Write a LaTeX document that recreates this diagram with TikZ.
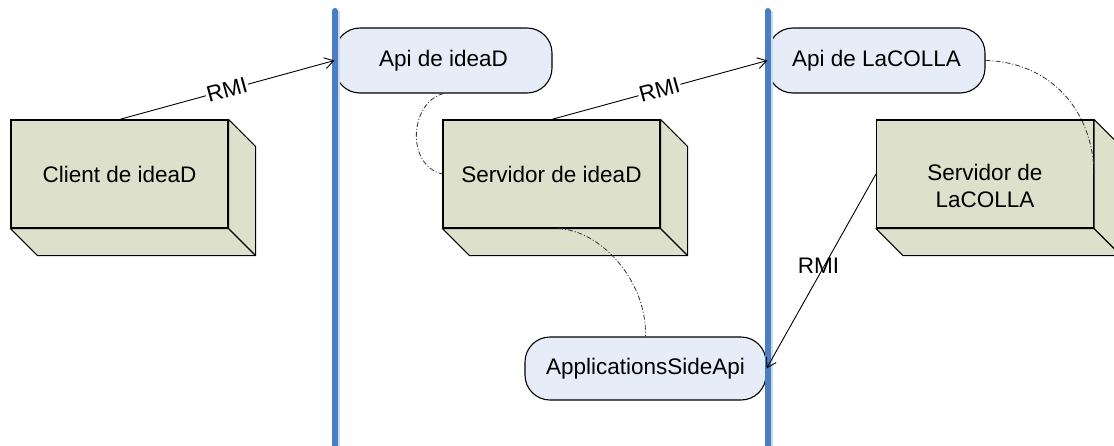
\documentclass[tikz,border=0pt]{standalone}
\usepackage{fontspec}
\setmainfont{Liberation Sans}
\usetikzlibrary{arrows.meta}
\definecolor{nodefill}{RGB}{221,224,202}
\definecolor{apifill}{RGB}{230,236,248}
\definecolor{lane}{RGB}{74,126,193}
\definecolor{laneglow}{RGB}{205,218,238}

% right and bottom faces of a 3D deployment node whose front face is #1
\newcommand\depthfaces[1]{%
  \draw[depthface] (#1.north east) -- ++(27,27) -- ([shift={(27,27)}]#1.south east)
    -- ([shift={(27,27)}]#1.south west) -- (#1.south west) -- (#1.south east) -- cycle;
  \draw[depthface] (#1.south east) -- ++(27,27);
}

\begin{document}
\begin{tikzpicture}[x=1pt,y=-1pt,
  every node/.style={font=\fontsize{22.5}{27}\selectfont},
  frontface/.style={draw, fill=nodefill, line width=1.1pt, minimum width=217pt,
    minimum height=108pt, inner sep=0pt},
  depthface/.style={draw, fill=nodefill, line width=1.1pt, line join=round},
  apibox/.style={draw, fill=apifill, line width=1.1pt, rounded corners=25pt,
    minimum height=65pt, inner sep=0pt},
  lanesep/.style={draw=lane, line width=6pt, line cap=round},
  laneedge/.style={draw=laneglow, line width=1.5pt},
  rmi/.style={-{Straight Barb[length=9pt,width=11pt]}, line width=0.9pt},
  rmilabel/.style={fill=white, inner sep=1pt, sloped},
  dependency/.style={line width=0.8pt, draw=black!80,
    dash pattern=on 5pt off 2pt on 1pt off 2pt},
]
\useasboundingbox (0,0) rectangle (1114,445);

% deployment nodes
\node[frontface] (client) at (119.5,174) {Client de ideaD};
\depthfaces{client}
\node[frontface] (srv1) at (551.5,174) {Servidor de ideaD};
\depthfaces{srv1}
\node[frontface] (srv2) at (985,174) {};
\depthfaces{srv2}
\node[align=center] (srv2text) at ([yshift=-12pt]srv2.center) {Servidor de\\LaCOLLA};

% interfaces
\node[apibox, minimum width=217pt] (api1) at (443.5,60.5) {Api de ideaD};
\node[apibox, minimum width=217pt] (api2) at (876.5,60.5) {Api de LaCOLLA};
\node[apibox, minimum width=241pt, minimum height=63pt] (appside) at (645.5,368.5) {ApplicationsSideApi};

% realisation links
\draw[dependency] (api1.south) .. controls (410,102) and (405,165) .. (srv1.west);
\draw[dependency] ([xshift=6.5pt]srv1.south) .. controls (600,230) and (647,280) .. (appside.north);
\draw[dependency] (api2.east) .. controls (1050,62) and (1093,110) .. (srv2.east);

% tier separators
\coordinate (lane1top) at (335,11);
\coordinate (lane1bot) at (335,450);
\coordinate (lane2top) at (768,11);
\coordinate (lane2bot) at (768,450);
\draw[laneedge] ([xshift=4pt]lane1top) -- ([xshift=4pt]lane1bot);
\draw[laneedge] ([xshift=4pt]lane2top) -- ([xshift=4pt]lane2bot);
\draw[lanesep] (lane1top) -- (lane1bot);
\draw[lanesep] (lane2top) -- (lane2bot);

% remote calls
\draw[rmi] (client.north) -- node[rmilabel] {RMI} (api1.west);
\draw[rmi] (srv1.north) -- node[rmilabel] {RMI} (api2.west);
\draw[rmi] (srv2.west) -- node[pos=0.47, xshift=-6pt, inner sep=0pt] {RMI} (appside.east);
\end{tikzpicture}
\end{document}
